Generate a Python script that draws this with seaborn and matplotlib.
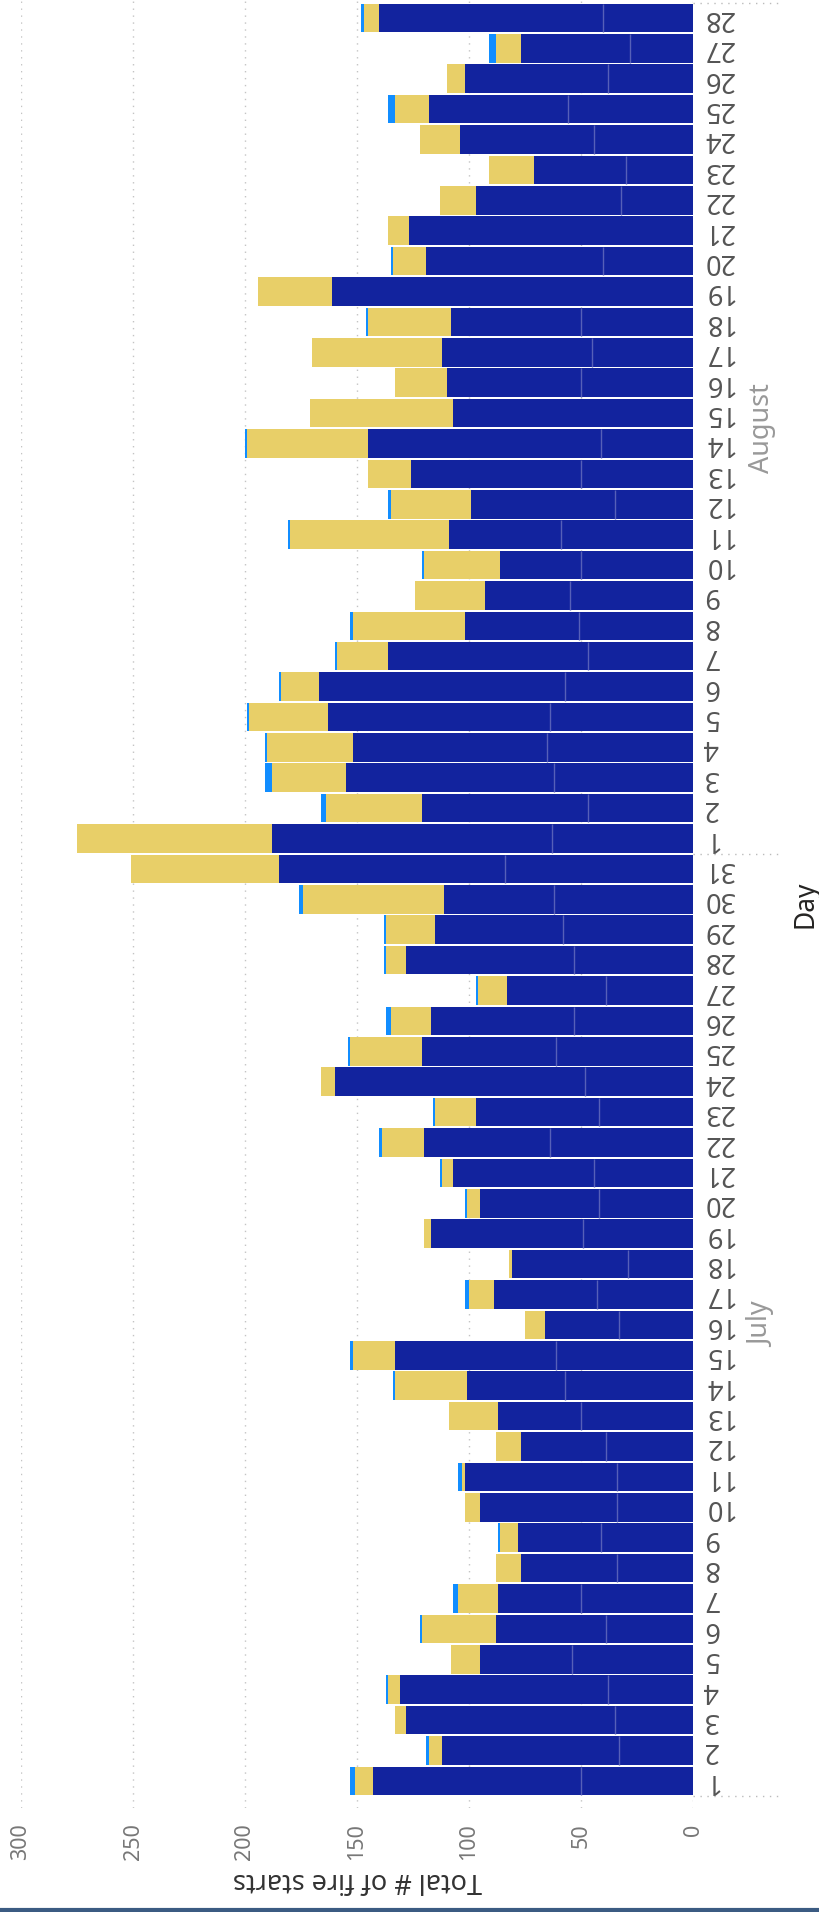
import numpy as np
import pandas as pd
import matplotlib.pyplot as plt
import matplotlib.transforms as mtransforms
import seaborn as sns

# Fire starts per day, July 1 - August 28 (four stacked components)
months = ["July", "August"]
month_days = [31, 28]
day_labels = [str(d) for n in month_days for d in range(1, n + 1)]

navy_a = [50, 33, 35, 38, 54, 39, 50, 34, 41, 34, 34, 39, 50, 57, 61, 33, 43, 29, 49, 42,
          44, 64, 42, 48, 61, 53, 39, 53, 58, 62, 84,
          63, 47, 62, 65, 64, 57, 47, 51, 55, 50, 59, 35, 50, 41, 107, 50, 45, 50, 161, 40,
          127, 32, 30, 44, 56, 38, 28, 40]
navy_b = [93, 79, 93, 93, 41, 49, 37, 43, 37, 61, 68, 38, 37, 44, 72, 33, 46, 52, 68, 53,
          63, 56, 55, 112, 60, 64, 44, 75, 57, 49, 101,
          125, 74, 93, 87, 99, 110, 89, 51, 38, 36, 50, 64, 76, 104, 0, 60, 67, 58, 0, 79,
          0, 65, 41, 60, 62, 64, 49, 100]
yellow = [8, 6, 5, 5, 13, 33, 18, 11, 8, 7, 1, 11, 22, 32, 19, 9, 11, 1, 3, 6,
          5, 19, 18, 6, 32, 18, 13, 9, 22, 63, 66,
          87, 43, 33, 38, 35, 17, 23, 50, 31, 34, 71, 36, 19, 54, 64, 23, 58, 37, 33, 15,
          9, 16, 20, 18, 15, 8, 11, 7]
blue = [2, 1, 0, 1, 0, 1, 2, 0, 1, 0, 2, 0, 0, 1, 1, 0, 2, 0, 0, 1,
        1, 1, 1, 0, 1, 2, 1, 1, 1, 2, 0,
        0, 2, 3, 1, 1, 1, 1, 1, 0, 1, 1, 1, 0, 1, 0, 0, 0, 1, 0, 1,
        0, 0, 0, 0, 3, 0, 3, 1]

NAVY = "#12239E"
YELLOW = "#E8CF68"
BLUE = "#118DFF"

df = pd.DataFrame({"pos": np.arange(len(day_labels)),
                   "navy_a": navy_a, "navy_b": navy_b, "yellow": yellow, "blue": blue})
df["c_navy"] = df["navy_a"] + df["navy_b"]
df["c_yellow"] = df["c_navy"] + df["yellow"]
df["c_blue"] = df["c_yellow"] + df["blue"]

sns.set_theme(style="white")
plt.rcParams["font.family"] = ["Noto Sans", "DejaVu Sans"]

fig = plt.figure(figsize=(8.19, 19.12), dpi=100)
ax = fig.add_axes([21 / 819, 104 / 1912, 672 / 819, 1808 / 1912])

# stacked bars drawn as overlaid cumulative totals
for col, colr in [("c_blue", BLUE), ("c_yellow", YELLOW), ("c_navy", NAVY)]:
    sns.barplot(data=df, x=col, y="pos", orient="h", native_scale=True, color=colr,
                saturation=1, width=0.94, errorbar=None, linewidth=0, ax=ax)

# boundary between the two navy components
split = df[df["navy_b"] > 0]
ax.vlines(split["navy_a"], split["pos"] - 0.47, split["pos"] + 0.47,
          color="#5660b8", linewidth=1, zorder=3)

ax.set_xlim(300, 0)
ax.set_ylim(-0.895, 58.589)
ax.set_xticks([0, 50, 100, 150, 200, 250, 300])
ax.set_yticks(df["pos"])
ax.set_yticklabels(day_labels)
ax.yaxis.tick_right()
ax.tick_params(axis="x", length=0, pad=11, labelsize=15.5, labelcolor="#777777", labelrotation=90)
ax.tick_params(axis="y", length=0, pad=7, labelsize=19.5, labelcolor="#555555", labelrotation=180)
for tick in ax.yaxis.get_major_ticks():
    tick.label2.set_va("center")

ax.grid(axis="x", linestyle=(0, (1, 4)), color="#c4c4c4", linewidth=1)
ax.grid(axis="y", visible=False)
ax.set_axisbelow(True)
for sp in ax.spines.values():
    sp.set_visible(False)

ax.set_xlabel("Total # of fire starts", fontsize=19.5, color="#333333", rotation=180)
ax.xaxis.set_label_coords(0.5, -0.032)
ax.set_ylabel("")

# month labels and separators on the day axis
trans = mtransforms.blended_transform_factory(ax.transAxes, ax.transData)
start = 0
for name, n in zip(months, month_days):
    ax.text(1.1027, start + (n - 1) / 2, name, transform=trans, rotation=90,
            ha="center", va="center", fontsize=19.5, color="#999999")
    start += n
for yb in [-0.5, 30.5, 58.5]:
    ax.plot([1.0, 1.134], [yb, yb], transform=trans, clip_on=False,
            linestyle=(0, (1, 4)), color="#bbbbbb", linewidth=1)

ax.text(1.168, 0.5, "Day", transform=ax.transAxes, rotation=90,
        ha="center", va="center", fontsize=19, color="#252423")

fig.add_artist(plt.Line2D([0, 1], [0.0008, 0.0008], transform=fig.transFigure,
                          color="#3b5b82", linewidth=3))

fig.savefig("out.png", dpi=100)
